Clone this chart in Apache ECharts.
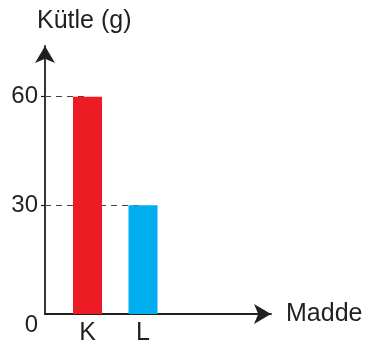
<!DOCTYPE html>
<html>
<head>
<meta charset="utf-8">
<script src="https://cdn.jsdelivr.net/npm/echarts@6/dist/echarts.min.js"></script>
<style>
  html, body { margin: 0; padding: 0; background: #fff; }
  #chart { width: 369px; height: 346px; }
</style>
</head>
<body>
<div id="chart"></div>
<script>
  // data
  const categories = ['K', 'L'];
  const masses = [60, 30];
  const yTicks = [0, 30, 60];

  const ink = '#231F20';
  const font = "'Liberation Sans', Arial, sans-serif";
  const barColors = ['#ED1C24', '#00AEEF'];

  // categories sit at 1, 2 on a value axis so the axis can start left of the first bar
  const xMin = 0.234;
  const xMax = 4.306;

  const chart = echarts.init(document.getElementById('chart'));

  const option = {
    animation: false,
    title: {
      text: 'Kütle (g)',
      left: 37,
      top: 9,
      padding: 0,
      textStyle: { fontFamily: font, fontSize: 25, fontWeight: 'normal', color: ink },
    },
    grid: { left: 45, right: 98, top: 46, bottom: 31 },
    xAxis: {
      type: 'value',
      min: xMin,
      max: xMax,
      name: 'Madde',
      nameLocation: 'end',
      nameGap: 15,
      nameTextStyle: { fontFamily: font, fontSize: 25, color: ink },
      splitLine: { show: false },
      axisTick: { show: false },
      axisLine: {
        show: true,
        symbol: ['none', 'arrow'],
        symbolSize: [15, 17],
        lineStyle: { color: ink, width: 1.8 },
      },
      axisLabel: {
        customValues: categories.map((c, i) => i + 1),
        formatter: (v) => categories[Math.round(v) - 1] || '',
        margin: 7,
        fontFamily: font,
        fontSize: 25,
        color: ink,
      },
    },
    yAxis: {
      type: 'value',
      min: 0,
      max: 74,
      splitLine: { show: false },
      axisLine: {
        show: true,
        symbol: ['none', 'arrow'],
        symbolSize: [15, 17],
        lineStyle: { color: ink, width: 1.8 },
      },
      axisTick: {
        show: true,
        customValues: yTicks.filter((v) => v > 0),
        length: 4,
        lineStyle: { color: ink, width: 1.2 },
      },
      axisLabel: {
        customValues: yTicks,
        margin: 7,
        fontFamily: font,
        fontSize: 24,
        color: ink,
        formatter: (v) => (v === 0 ? '{z|0}' : String(v)),
        rich: {
          z: { fontFamily: font, fontSize: 24, color: ink, padding: [22, 0, 0, 0] },
        },
      },
    },
    series: [
      {
        type: 'bar',
        barWidth: 29,
        z: 2,
        data: masses.map((v, i) => ({
          value: [i + 1, v],
          itemStyle: { color: barColors[i] },
        })),
        markLine: {
          z: 1,
          silent: true,
          symbol: 'none',
          label: { show: false },
          lineStyle: { color: '#444', width: 1, type: [6, 5] },
          data: masses.map((v, i) => [{ coord: [xMin, v] }, { coord: [i + 1, v] }]),
        },
      },
    ],
  };

  chart.setOption(option);
</script>
</body>
</html>
